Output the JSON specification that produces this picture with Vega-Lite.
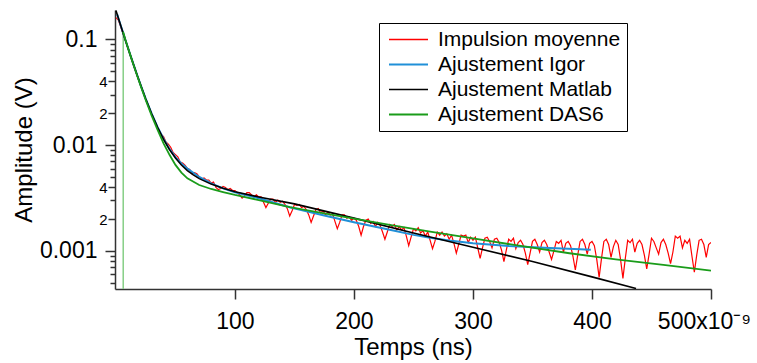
{
"$schema":"https://vega.github.io/schema/vega-lite/v6.json",
"width":596,"height":279,
"autosize":{"type":"none"},
"padding":{"left":115,"top":10,"right":46,"bottom":74},
"background":"white",
"config":{"view":{"stroke":null},"font":"Liberation Sans","axis":{"labelFont":"Liberation Sans","titleFont":"Liberation Sans"},"legend":{"labelFont":"Liberation Sans"}},
"datasets":{
"impulsion":[{"t":0,"v":0.16},{"t":2,"v":0.152},{"t":4,"v":0.131},{"t":6,"v":0.112},{"t":8,"v":0.096},{"t":10,"v":0.082},{"t":12,"v":0.07},{"t":15,"v":0.0556},{"t":18,"v":0.0445},{"t":21,"v":0.0357},{"t":25,"v":0.027},{"t":30,"v":0.0196},{"t":35,"v":0.0146},{"t":38,"v":0.0126},
{"t":40,"v":0.012},{"t":42,"v":0.01072},{"t":44,"v":0.01023},{"t":46,"v":0.00955},{"t":48,"v":0.00851},{"t":50,"v":0.00813},{"t":52,"v":0.00776},{"t":54,"v":0.00692},{"t":56,"v":0.00676},{"t":58,"v":0.00646},{"t":60,"v":0.00603},{"t":62,"v":0.00589},{"t":64,"v":0.00537},{"t":66,"v":0.0055},{"t":68,"v":0.00537},{"t":70,"v":0.00501},{"t":72,"v":0.00479},{"t":74,"v":0.0049},{"t":76,"v":0.00468},{"t":78,"v":0.00468},{"t":80,"v":0.00437},{"t":82,"v":0.00447},{"t":84,"v":0.00398},{"t":86,"v":0.0038},{"t":88,"v":0.00389},{"t":90,"v":0.00407},{"t":92,"v":0.00398},{"t":94,"v":0.0038},{"t":96,"v":0.00389},{"t":98,"v":0.00372},{"t":100,"v":0.00372},{"t":102,"v":0.00355},{"t":104,"v":0.00339},{"t":106,"v":0.00316},{"t":108,"v":0.00331},{"t":110,"v":0.00355},{"t":112,"v":0.00355},{"t":114,"v":0.00339},{"t":116,"v":0.00324},{"t":118,"v":0.00339},{"t":120,"v":0.00324},{"t":122,"v":0.00324},{"t":124,"v":0.00288},{"t":126,"v":0.00257},{"t":128,"v":0.00282},{"t":130,"v":0.00309},{"t":132,"v":0.00309},{"t":134,"v":0.00288},{"t":136,"v":0.00302},{"t":138,"v":0.00288},{"t":140,"v":0.00295},{"t":142,"v":0.00275},{"t":144,"v":0.00251},{"t":146,"v":0.00214},{"t":148,"v":0.0024},{"t":150,"v":0.00275},{"t":152,"v":0.00269},{"t":154,"v":0.00275},{"t":156,"v":0.00257},{"t":158,"v":0.00263},{"t":160,"v":0.00245},{"t":162,"v":0.00219},{"t":164,"v":0.00186},{"t":166,"v":0.00214},{"t":168,"v":0.00245},{"t":170,"v":0.00251},{"t":172,"v":0.00229},{"t":174,"v":0.0024},{"t":176,"v":0.00219},{"t":178,"v":0.00234},{"t":180,"v":0.00219},{"t":182,"v":0.00224},{"t":184,"v":0.0019},{"t":186,"v":0.00162},{"t":188,"v":0.00186},{"t":190,"v":0.00219},{"t":192,"v":0.00219},{"t":194,"v":0.00204},{"t":196,"v":0.00209},{"t":198,"v":0.00195},{"t":200,"v":0.00204},{"t":202,"v":0.00195},{"t":204,"v":0.0017},{"t":206,"v":0.00141},{"t":208,"v":0.0017},{"t":210,"v":0.00195},{"t":212,"v":0.002},{"t":214,"v":0.00182},{"t":216,"v":0.0019},{"t":218,"v":0.0017},{"t":220,"v":0.00186},{"t":222,"v":0.00174},{"t":224,"v":0.00151},{"t":226,"v":0.00129},{"t":228,"v":0.00151},{"t":230,"v":0.00178},{"t":232,"v":0.0017},{"t":234,"v":0.00178},{"t":236,"v":0.00158},{"t":238,"v":0.0017},{"t":240,"v":0.00158},{"t":242,"v":0.00166},{"t":244,"v":0.00138},{"t":246,"v":0.00112},{"t":248,"v":0.00135},{"t":250,"v":0.00162},{"t":252,"v":0.00155},{"t":254,"v":0.00166},{"t":256,"v":0.00148},{"t":258,"v":0.00155},{"t":260,"v":0.00138},{"t":262,"v":0.00151},{"t":264,"v":0.00126},{"t":266,"v":0.00105},{"t":268,"v":0.00123},{"t":270,"v":0.00151},{"t":272,"v":0.00141},{"t":274,"v":0.00151},{"t":276,"v":0.00138},{"t":278,"v":0.00145},{"t":280,"v":0.00129},{"t":282,"v":0.00141},{"t":284,"v":0.00118},{"t":286,"v":0.000955},{"t":288,"v":0.00115},{"t":290,"v":0.00141},{"t":292,"v":0.00138},{"t":294,"v":0.00141},{"t":296,"v":0.0012},{"t":298,"v":0.00135},{"t":300,"v":0.00126},{"t":302,"v":0.00135},{"t":304,"v":0.00107},{"t":306,"v":0.000851},{"t":308,"v":0.00107},{"t":310,"v":0.00132},{"t":312,"v":0.00135},{"t":314,"v":0.00123},{"t":316,"v":0.00107},{"t":318,"v":0.00129},{"t":320,"v":0.00132},{"t":322,"v":0.0012},{"t":324,"v":0.00102},{"t":326,"v":0.000794},{"t":328,"v":0.00102},{"t":330,"v":0.00129},{"t":332,"v":0.00123},{"t":334,"v":0.00132},{"t":336,"v":0.00105},{"t":338,"v":0.0012},{"t":340,"v":0.00126},{"t":342,"v":0.00115},{"t":344,"v":0.000955},{"t":346,"v":0.000741},{"t":348,"v":0.000955},{"t":350,"v":0.00123},{"t":352,"v":0.00129},{"t":354,"v":0.00115},{"t":356,"v":0.000977},{"t":358,"v":0.0012},{"t":360,"v":0.00126},{"t":362,"v":0.00115},{"t":364,"v":0.000977},{"t":366,"v":0.000832},{"t":368,"v":0.001},{"t":370,"v":0.00123},{"t":372,"v":0.00118},{"t":374,"v":0.00126},{"t":376,"v":0.000977},{"t":378,"v":0.00118},{"t":380,"v":0.00123},{"t":382,"v":0.00112},{"t":384,"v":0.000891},{"t":386,"v":0.000661},{"t":388,"v":0.000912},{"t":390,"v":0.00123},{"t":392,"v":0.00129},{"t":394,"v":0.00115},{"t":396,"v":0.000933},{"t":398,"v":0.00118},{"t":400,"v":0.00123},{"t":402,"v":0.00112},{"t":404,"v":0.000832},{"t":406,"v":0.000562},{"t":408,"v":0.000851},{"t":410,"v":0.00123},{"t":412,"v":0.00129},{"t":414,"v":0.00115},{"t":416,"v":0.000871},{"t":418,"v":0.0011},{"t":420,"v":0.00126},{"t":422,"v":0.00115},{"t":424,"v":0.000832},{"t":426,"v":0.00055},{"t":428,"v":0.000851},{"t":430,"v":0.00126},{"t":432,"v":0.0012},{"t":434,"v":0.00129},{"t":436,"v":0.000977},{"t":438,"v":0.00118},{"t":440,"v":0.00126},{"t":442,"v":0.00115},{"t":444,"v":0.000912},{"t":446,"v":0.000676},{"t":448,"v":0.000933},{"t":450,"v":0.00132},{"t":452,"v":0.00123},{"t":454,"v":0.00107},{"t":456,"v":0.000933},{"t":458,"v":0.0012},{"t":460,"v":0.00129},{"t":462,"v":0.00115},{"t":464,"v":0.000955},{"t":466,"v":0.000759},{"t":468,"v":0.000977},{"t":470,"v":0.00138},{"t":472,"v":0.00132},{"t":474,"v":0.00138},{"t":476,"v":0.00107},{"t":478,"v":0.00126},{"t":480,"v":0.00118},{"t":482,"v":0.00129},{"t":484,"v":0.000891},{"t":486,"v":0.000631},{"t":488,"v":0.000912},{"t":490,"v":0.00126},{"t":492,"v":0.00129},{"t":494,"v":0.00115},{"t":496,"v":0.000871},{"t":498,"v":0.00115},{"t":500,"v":0.0012}],
"igor":[{"t":1,"v":0.172},{"t":2,"v":0.1586},{"t":4,"v":0.1349},{"t":6,"v":0.1148},{"t":8,"v":0.0978},{"t":10,"v":0.0835},{"t":12,"v":0.0714},{"t":15,"v":0.0567},{"t":18,"v":0.0452},{"t":21,"v":0.0363},{"t":25,"v":0.0274},{"t":30,"v":0.0198},{"t":35,"v":0.0148},{"t":40,"v":0.0115},{"t":45,"v":0.0092},{"t":50,"v":0.0077},{"t":55,"v":0.0067},{"t":60,"v":0.006},{"t":70,"v":0.005},{"t":80,"v":0.00435},{"t":90,"v":0.0039},{"t":100,"v":0.00358},{"t":120,"v":0.00315},{"t":146,"v":0.00259},{"t":175,"v":0.00216},{"t":200,"v":0.001871},{"t":230,"v":0.001585},{"t":250,"v":0.001419},{"t":264,"v":0.00133},{"t":280,"v":0.001253},{"t":300,"v":0.001183},{"t":330,"v":0.001114},{"t":360,"v":0.001072},{"t":390,"v":0.001038},{"t":399,"v":0.001028}],
"matlab":[{"t":0,"v":0.1868},{"t":2,"v":0.1586},{"t":4,"v":0.1349},{"t":6,"v":0.1148},{"t":8,"v":0.0978},{"t":10,"v":0.0835},{"t":12,"v":0.0714},{"t":15,"v":0.0567},{"t":18,"v":0.0452},{"t":21,"v":0.0363},{"t":25,"v":0.0274},{"t":30,"v":0.0198},{"t":35,"v":0.01471},{"t":40,"v":0.01134},{"t":45,"v":0.00907},{"t":50,"v":0.00754},{"t":55,"v":0.00648},{"t":60,"v":0.00574},{"t":65,"v":0.00523},{"t":70,"v":0.00482},{"t":80,"v":0.00428},{"t":90,"v":0.00391},{"t":100,"v":0.00362},{"t":120,"v":0.00324},{"t":150,"v":0.002786},{"t":200,"v":0.002042},{"t":250,"v":0.001479},{"t":300,"v":0.001084},{"t":350,"v":0.000794},{"t":400,"v":0.000569},{"t":437,"v":0.000442}],
"das6":[{"t":6,"v":0.118},{"t":8,"v":0.0985},{"t":10,"v":0.0835},{"t":12,"v":0.0712},{"t":15,"v":0.0563},{"t":18,"v":0.0447},{"t":21,"v":0.0357},{"t":25,"v":0.0267},{"t":30,"v":0.019},{"t":35,"v":0.0139},{"t":40,"v":0.0104},{"t":45,"v":0.0081},{"t":50,"v":0.0065},{"t":55,"v":0.0055},{"t":60,"v":0.00485},{"t":70,"v":0.0042},{"t":80,"v":0.00385},{"t":90,"v":0.0036},{"t":100,"v":0.00338},{"t":120,"v":0.00302},{"t":146,"v":0.002588},{"t":175,"v":0.002265},{"t":200,"v":0.002023},{"t":230,"v":0.001766},{"t":264,"v":0.00152},{"t":300,"v":0.001312},{"t":340,"v":0.001117},{"t":381,"v":0.000951},{"t":420,"v":0.000832},{"t":460,"v":0.000738},{"t":500,"v":0.000652}],
"debut":[{"t":6.1,"v":0.118,"v2":0.000437}]
},
"encoding":{
"x":{"field":"t","type":"quantitative","title":"Temps (ns)",
 "scale":{"type":"linear","domain":[-0.8,500],"nice":false,"zero":false},
 "axis":{"values":[100,200,300,400,500],"labelExpr":"datum.value == 500 ? '500x10⁻⁹' : datum.label","grid":false,"tickSize":10,"tickWidth":1.5,"tickColor":"#333","domainColor":"#333","domainWidth":1.5,"labelFontSize":23,"labelColor":"black","labelPadding":11,"labelOffset":{"condition":{"test":"datum.value == 500","value":-7},"value":0},"labelFlush":false,"labelOverlap":false,"labelBound":false,"titleFontSize":24,"titleFontWeight":"normal","titleColor":"black","titlePadding":2}},
"y":{"field":"v","type":"quantitative","title":"Amplitude (V)",
 "scale":{"type":"log","domain":[0.000437,0.189],"nice":false},
 "axis":{"values":[0.0005,0.0006,0.0007,0.0008,0.0009,0.001,0.002,0.003,0.004,0.005,0.006,0.007,0.008,0.009,0.01,0.02,0.03,0.04,0.05,0.06,0.07,0.08,0.09,0.1],
  "labelExpr":"datum.value == 0.1 ? '0.1' : datum.value == 0.01 ? '0.01' : datum.value == 0.001 ? '0.001' : (datum.value == 0.04 || datum.value == 0.004) ? '4' : (datum.value == 0.02 || datum.value == 0.002) ? '2' : ''",
  "grid":false,
  "tickSize":{"condition":[{"test":"datum.value == 0.1 || datum.value == 0.01 || datum.value == 0.001","value":10},{"test":"datum.value == 0.04 || datum.value == 0.004 || datum.value == 0.02 || datum.value == 0.002","value":7}],"value":5},
  "labelFontSize":{"condition":{"test":"datum.value == 0.1 || datum.value == 0.01 || datum.value == 0.001","value":23},"value":15},
  "labelPadding":{"condition":{"test":"datum.value == 0.1 || datum.value == 0.01 || datum.value == 0.001","value":8},"value":1},
  "tickWidth":1.5,"tickColor":"#333","domainColor":"#333","domainWidth":1.5,"labelColor":"black","labelFlush":false,"labelOverlap":false,"labelBound":false,
  "titleFontSize":24,"titleFontWeight":"normal","titleColor":"black","titlePadding":3}}
},
"layer":[
{"data":{"name":"debut"},"mark":{"type":"rule","color":"#86cf86","strokeWidth":1.5},"encoding":{"y2":{"field":"v2"}}},
{"data":{"name":"impulsion"},"mark":{"type":"line","strokeWidth":1.2,"clip":true},
 "encoding":{"color":{"datum":"Impulsion moyenne","type":"nominal",
  "scale":{"domain":["Impulsion moyenne","Ajustement Igor","Ajustement Matlab","Ajustement DAS6"],"range":["#ff0000","#2090d8","#000000","#1a9c1a"]},
  "legend":{"orient":"none","legendX":264,"legendY":13,"title":null,"symbolType":"stroke","symbolStrokeWidth":2,"symbolOffset":13,"rowPadding":3,"padding":6,"labelOffset":19,"labelFontSize":21,"labelColor":"black","strokeColor":"black","fillColor":"white","labelLimit":400,
   "encode":{"symbols":{"update":{"size":{"value":1521},"strokeWidth":{"signal":"datum.value == 'Impulsion moyenne' ? 1.5 : (datum.value == 'Ajustement Matlab' ? 1.5 : 2)"}}}}}}}},
{"data":{"name":"igor"},"mark":{"type":"line","strokeWidth":2,"clip":true},"encoding":{"color":{"datum":"Ajustement Igor","type":"nominal"}}},
{"data":{"name":"matlab"},"mark":{"type":"line","strokeWidth":1.6,"clip":true},"encoding":{"color":{"datum":"Ajustement Matlab","type":"nominal"}}},
{"data":{"name":"das6"},"mark":{"type":"line","strokeWidth":1.8,"clip":true},"encoding":{"color":{"datum":"Ajustement DAS6","type":"nominal"}}}
]
}
